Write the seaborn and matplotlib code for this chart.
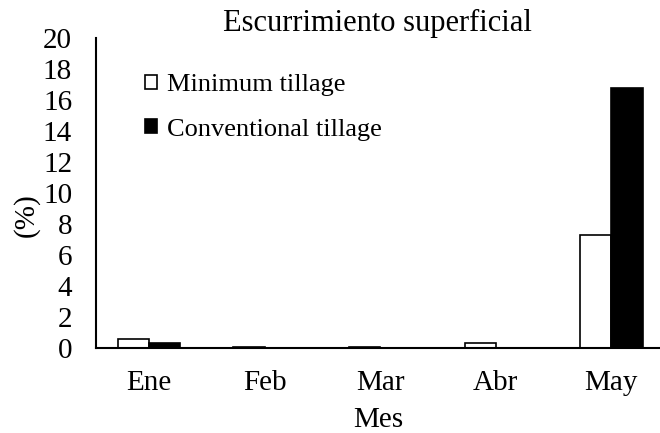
import pandas as pd
import matplotlib
matplotlib.use("Agg")
import matplotlib.pyplot as plt
import seaborn as sns

# data
meses = ["Ene", "Feb", "Mar", "Abr", "May"]
minimum_tillage = [0.6, 0.05, 0.05, 0.3, 7.3]
conventional_tillage = [0.3, 0.0, 0.0, 0.0, 16.8]
series = ["Minimum tillage", "Conventional tillage"]

df = pd.DataFrame({
    "Mes": meses * 2,
    "valor": minimum_tillage + conventional_tillage,
    "serie": [series[0]] * len(meses) + [series[1]] * len(meses),
})

sns.set_theme(style="white")
plt.rcParams["font.family"] = ["Liberation Serif", "DejaVu Serif"]

fig = plt.figure(figsize=(6.6, 4.33), dpi=100)
ax = fig.add_axes([0.145, 0.196, 0.855, 0.716])

sns.barplot(data=df, x="Mes", y="valor", hue="serie", hue_order=series,
            palette=["white", "black"], edgecolor="black", linewidth=1.2,
            width=0.54, gap=0, ax=ax, legend=True)

ax.set_ylim(0, 20)
ax.set_yticks(range(0, 21, 2))
ax.set_xlim(-0.46, 4.42)
ax.tick_params(axis="both", length=0, labelsize=21, colors="black")
ax.tick_params(axis="x", pad=16)
ax.tick_params(axis="y", pad=17)
for s in ["top", "right"]:
    ax.spines[s].set_visible(False)
for s in ["left", "bottom"]:
    ax.spines[s].set_color("black")
    ax.spines[s].set_linewidth(1.5)

ax.set_title("Escurrimiento superficial", fontsize=22, color="black", pad=5)
ax.set_xlabel("Mes", fontsize=21, color="black")
ax.xaxis.set_label_coords(0.5, -0.19)
ax.set_ylabel("(%)", fontsize=21, color="black")
ax.yaxis.set_label_coords(-0.099, 0.43)

leg = ax.legend(loc="upper left", bbox_to_anchor=(0.045, 0.96), frameon=False,
                fontsize=19, handlelength=0.45, handleheight=0.45,
                handletextpad=0.4, labelspacing=0.85)
for t in leg.get_texts():
    t.set_color("black")

fig.savefig("out.png", dpi=100)
